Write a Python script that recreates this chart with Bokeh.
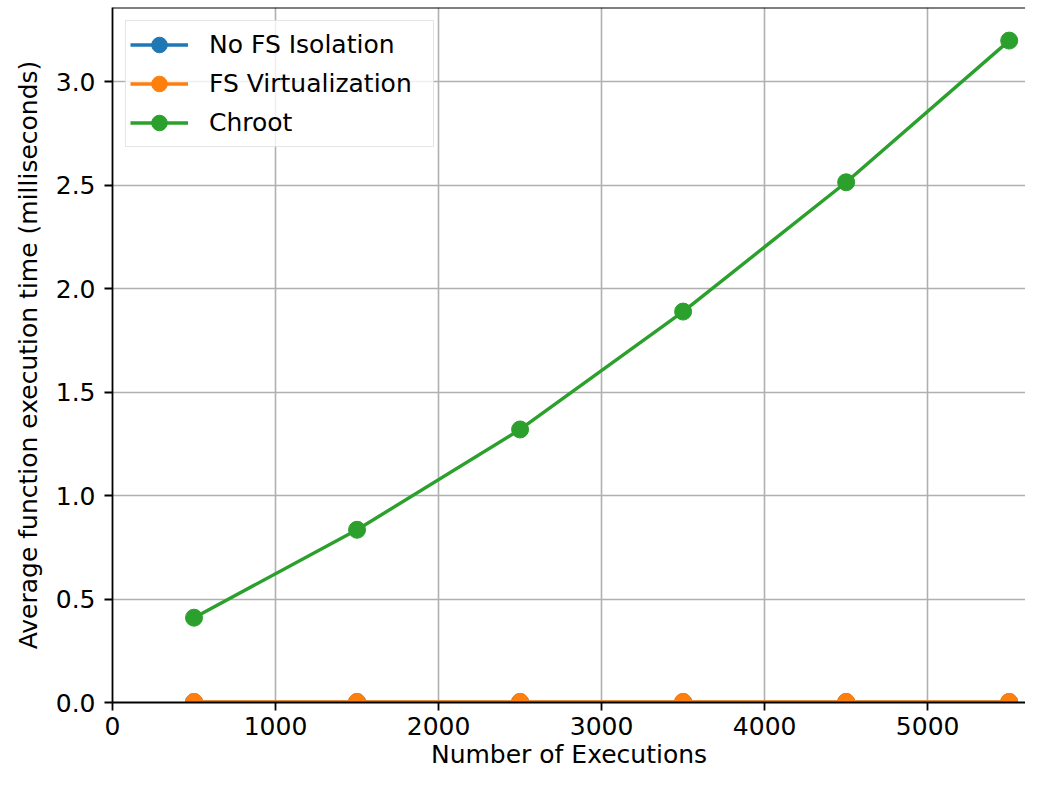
from bokeh.plotting import figure
from bokeh.models import Range1d, Legend, LegendItem, Span, FixedTicker, NumeralTickFormatter
from bokeh.embed import file_html
from bokeh.resources import INLINE

executions = [500, 1500, 2500, 3500, 4500, 5500]
no_fs_isolation = [0.002, 0.002, 0.002, 0.002, 0.002, 0.002]
fs_virtualization = [0.003, 0.003, 0.003, 0.003, 0.003, 0.003]
chroot = [0.41, 0.835, 1.32, 1.89, 2.515, 3.2]
series_names = ["No FS Isolation", "FS Virtualization", "Chroot"]
colors = ["#1f77b4", "#ff7f0e", "#2ca02c"]
x_ticks = [0, 1000, 2000, 3000, 4000, 5000]
y_ticks = [0.0, 0.5, 1.0, 1.5, 2.0, 2.5, 3.0]

FONT = "DejaVu Sans"
FS = "25px"

p = figure(width=1025, height=771, output_backend="svg", toolbar_location=None,
           x_range=Range1d(0, 5600), y_range=Range1d(0, 3.36),
           min_border_left=112, min_border_right=0, min_border_top=7, min_border_bottom=0)
p.outline_line_color = None
p.background_fill_color = "white"
p.border_fill_color = "white"

# top spine
p.add_layout(Span(location=3.36, dimension="width", line_color="black", line_width=1.8))

renderers = []
for ys, col in zip([no_fs_isolation, fs_virtualization, chroot], colors):
    l = p.line(executions, ys, line_color=col, line_width=3.4)
    c = p.scatter(executions, ys, size=17, fill_color=col, line_color=col)
    renderers.append([l, c])

for ax in (p.xaxis[0], p.yaxis[0]):
    ax.axis_line_color = "black"
    ax.axis_line_width = 1.8
    ax.major_tick_line_color = "black"
    ax.major_tick_line_width = 1.8
    ax.major_tick_out = 8
    ax.major_tick_in = 0
    ax.minor_tick_line_color = None
    ax.major_label_text_font = FONT
    ax.major_label_text_font_size = FS
    ax.major_label_text_color = "black"
    ax.axis_label_text_font = FONT
    ax.axis_label_text_font_size = FS
    ax.axis_label_text_font_style = "normal"
    ax.axis_label_text_color = "black"

p.xaxis.major_label_standoff = 6
p.yaxis.major_label_standoff = 9
p.xaxis.ticker = FixedTicker(ticks=x_ticks)
p.yaxis.ticker = FixedTicker(ticks=y_ticks)
p.yaxis.formatter = NumeralTickFormatter(format="0.0")
p.xaxis.axis_label = "Number of Executions"
p.yaxis.axis_label = "Average function execution time (milliseconds)"
p.xaxis.axis_label_standoff = 2
p.yaxis.axis_label_standoff = 10

p.xgrid.ticker = FixedTicker(ticks=x_ticks)
p.ygrid.ticker = FixedTicker(ticks=y_ticks)
p.grid.grid_line_color = "#b0b0b0"
p.grid.grid_line_width = 1.6

legend = Legend(items=[LegendItem(label=n, renderers=r) for n, r in zip(series_names, renderers)],
                location="top_left", margin=13, padding=4, spacing=0,
                glyph_width=58, glyph_height=39, label_standoff=21, label_width=220,
                label_text_font=FONT, label_text_font_size=FS, label_text_color="black",
                border_line_color="#cccccc", border_line_width=1.5,
                background_fill_color="white", background_fill_alpha=0.8)
p.add_layout(legend)

open("out.html", "w").write(file_html(p, INLINE))
